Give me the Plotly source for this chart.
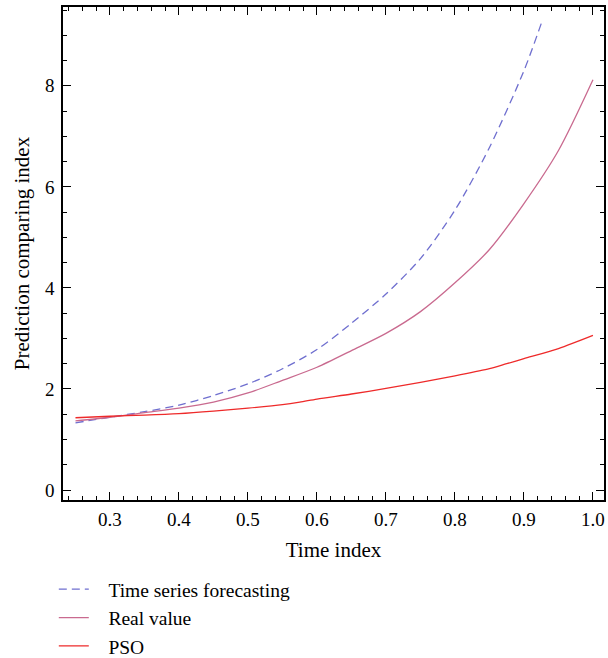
import plotly.graph_objects as go

# Time series forecasting (dashed)
ts_x = [0.25, 0.30, 0.35, 0.40, 0.45, 0.50, 0.55, 0.60, 0.65, 0.70, 0.75, 0.80, 0.85, 0.90, 0.926]
ts_y = [1.33, 1.44, 1.55, 1.68, 1.87, 2.10, 2.40, 2.78, 3.30, 3.88, 4.58, 5.54, 6.78, 8.30, 9.27]

# Real value
rv_x = [0.25, 0.30, 0.35, 0.40, 0.45, 0.50, 0.55, 0.60, 0.65, 0.70, 0.75, 0.80, 0.85, 0.90, 0.95, 1.00]
rv_y = [1.37, 1.44, 1.53, 1.62, 1.74, 1.92, 2.17, 2.43, 2.76, 3.10, 3.53, 4.10, 4.76, 5.67, 6.72, 8.12]

# PSO
pso_x = [0.25, 0.30, 0.35, 0.40, 0.45, 0.50, 0.55, 0.575, 0.60, 0.65, 0.70, 0.75, 0.80, 0.85, 0.875, 0.90, 0.95, 1.00]
pso_y = [1.43, 1.46, 1.48, 1.51, 1.56, 1.62, 1.69, 1.74, 1.80, 1.90, 2.01, 2.13, 2.26, 2.40, 2.50, 2.60, 2.80, 3.06]

x_ticks = [0.3, 0.4, 0.5, 0.6, 0.7, 0.8, 0.9, 1.0]
x_tick_labels = ["0.3", "0.4", "0.5", "0.6", "0.7", "0.8", "0.9", "1.0"]
y_ticks = [0, 2, 4, 6, 8]
y_tick_labels = ["0", "2", "4", "6", "8"]

FONT = "Liberation Serif, Times New Roman, serif"
PAD = "\u00a0\u00a0\u00a0"

fig = go.Figure()
fig.add_trace(go.Scatter(x=ts_x, y=ts_y, mode="lines", name=PAD + "Time series forecasting",
                         line=dict(color="#6f6fcf", width=1.3, dash="8px,5px", shape="spline", smoothing=0.8)))
fig.add_trace(go.Scatter(x=rv_x, y=rv_y, mode="lines", name=PAD + "Real value",
                         line=dict(color="#c96a8f", width=1.3, shape="spline", smoothing=0.8)))
fig.add_trace(go.Scatter(x=pso_x, y=pso_y, mode="lines", name=PAD + "PSO",
                         line=dict(color="#ee2a2a", width=1.3, shape="spline", smoothing=0.8)))

axis_common = dict(showline=True, linecolor="black", linewidth=1.5, mirror="ticks",
                   ticks="inside", ticklen=8, tickwidth=1.2, tickcolor="black",
                   showgrid=False, zeroline=False, automargin=False,
                   tickfont=dict(family=FONT, size=19, color="black"))

fig.update_xaxes(range=[0.2319, 1.016], tickvals=x_ticks, ticktext=x_tick_labels,
                 ticklabelstandoff=1,
                 title=dict(text="Time index", font=dict(family=FONT, size=21, color="black"), standoff=14),
                 minor=dict(dtick=0.02, tick0=0, ticks="inside", ticklen=4, tickcolor="black", tickwidth=1.2),
                 **axis_common)
fig.update_yaxes(range=[-0.198, 9.56], tickvals=y_ticks, ticktext=y_tick_labels,
                 ticklabelstandoff=3,
                 title=dict(text="Prediction comparing index", font=dict(family=FONT, size=21, color="black"), standoff=10),
                 minor=dict(dtick=0.5, tick0=0, ticks="inside", ticklen=4, tickcolor="black", tickwidth=1.2),
                 **axis_common)

fig.update_layout(
    width=608, height=658,
    margin=dict(l=63, r=4, t=7, b=158),
    plot_bgcolor="white", paper_bgcolor="white",
    font=dict(family=FONT, size=21, color="black"),
    legend=dict(x=-0.017, xref="paper", y=0.1337, yref="container", xanchor="left", yanchor="top",
                font=dict(family=FONT, size=19.5, color="black"),
                bgcolor="rgba(0,0,0,0)", tracegroupgap=0),
    showlegend=True,
)

fig.write_html("out.html", config={"displayModeBar": False},
               post_script="document.body.style.margin='0';")
